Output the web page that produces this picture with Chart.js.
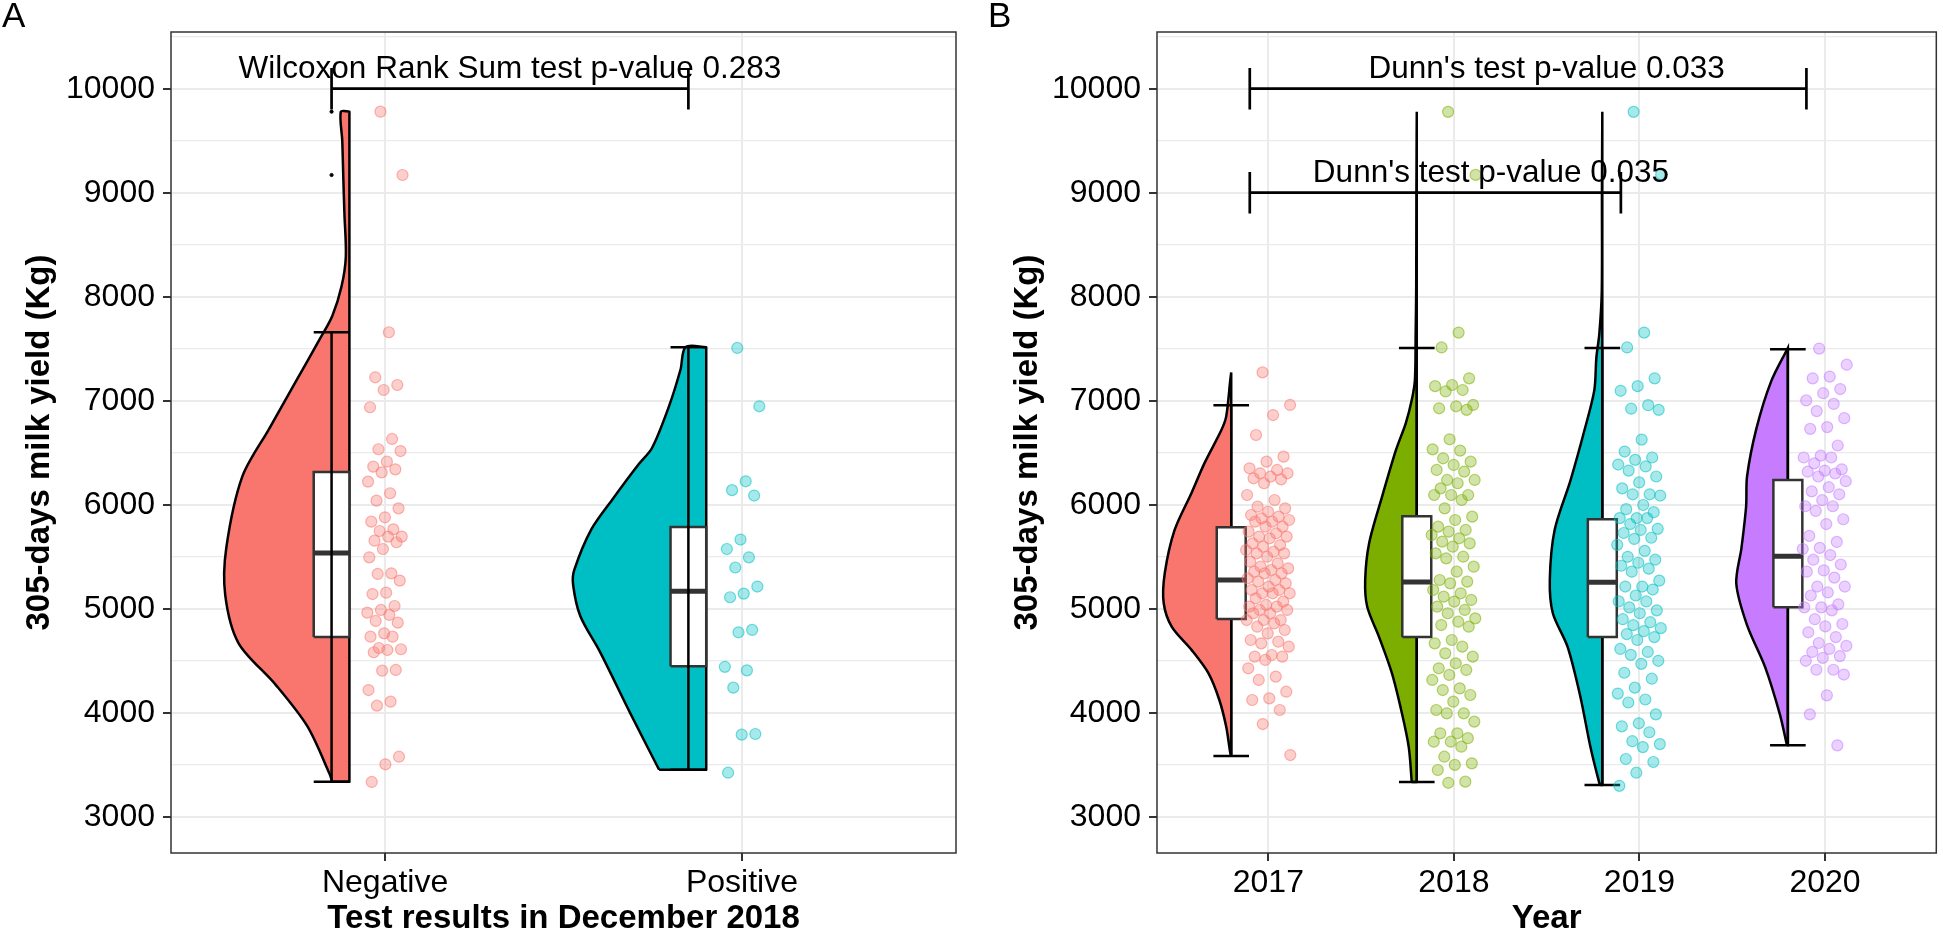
<!DOCTYPE html>
<html>
<head>
<meta charset="utf-8">
<script src="https://cdn.jsdelivr.net/npm/chart.js@4.4.1/dist/chart.umd.min.js"></script>
<style>
html, body { margin: 0; padding: 0; background: #fff; overflow: hidden; }
#panelA { position: absolute; left: 0; top: 0; width: 980px; height: 932px; }
#panelB { position: absolute; left: 980px; top: 0; width: 963px; height: 932px; }
</style>
</head>
<body>
<div id="panelA"><canvas id="chartA" width="980" height="932"></canvas></div>
<div id="panelB"><canvas id="chartB" width="963" height="932"></canvas></div>
<script>
// DATOS
const gruposA = ['Negative', 'Positive'];
const gruposB = ['2017', '2018', '2019', '2020'];
const ticksY = [3000, 3500, 4000, 4500, 5000, 5500, 6000, 6500, 7000, 7500, 8000, 8500, 9000, 9500, 10000, 10500];

// Resumen de cajas (mínimo, Q1, mediana, Q3, máximo)
const minA = [3336, 3451];
const q1A = [4727, 4447];
const medA = [5535, 5168];
const q3A = [6314, 5785];
const maxA = [7658, 7515];
const atipicosNeg = [9779, 9170];

const minB = [3583, 3333, 3304, 3686];
const q1B = [4900, 4727, 4727, 5013];
const medB = [5275, 5257, 5254, 5505];
const q3B = [5784, 5890, 5859, 6237];
const maxB = [6956, 7507, 7507, 7495];

// Contorno de densidad (medio violín): niveles y semiancho en unidades de categoría
const violinNegY = [3336, 3415, 3870, 4270, 4670, 5130, 5586, 6272, 6730, 7186, 7587, 7815, 8100, 8387, 8800, 9130, 9500, 9779];
const violinNegW = [0.048, 0.056, 0.118, 0.207, 0.311, 0.348, 0.345, 0.300, 0.225, 0.150, 0.084, 0.048, 0.022, 0.010, 0.014, 0.017, 0.020, 0.024];
const violinPosY = [3451, 3996, 4580, 4930, 5228, 5370, 5763, 6055, 6386, 6545, 6940, 7300, 7515];
const violinPosW = [0.132, 0.213, 0.297, 0.353, 0.373, 0.370, 0.322, 0.262, 0.190, 0.152, 0.105, 0.072, 0.058];

const violin17Y = [3583, 3612, 3864, 4122, 4380, 4604, 4825, 5055, 5343, 5757, 6113, 6400, 6718, 6849, 7199, 7272];
const violin17W = [0.0, 0.005, 0.027, 0.064, 0.123, 0.214, 0.320, 0.364, 0.358, 0.305, 0.214, 0.144, 0.053, 0.027, 0.005, 0.0];
const violin18Y = [3333, 3667, 3994, 4380, 4727, 5018, 5275, 5628, 6077, 6526, 6785, 7006, 7199, 7644, 8101, 9000, 9779];
const violin18W = [0.027, 0.043, 0.080, 0.134, 0.203, 0.267, 0.278, 0.257, 0.187, 0.112, 0.059, 0.027, 0.010, 0.006, 0.003, 0.002, 0.0];
const violin19Y = [3304, 3323, 3670, 4151, 4632, 4959, 5275, 5757, 6237, 6718, 7102, 7415, 7644, 8044, 9000, 9779];
const violin19W = [0.010, 0.016, 0.064, 0.118, 0.187, 0.267, 0.283, 0.257, 0.171, 0.096, 0.043, 0.032, 0.016, 0.003, 0.002, 0.0];
const violin20Y = [3686, 3984, 4441, 4842, 5242, 5585, 5985, 6271, 6729, 7186, 7507];
const violin20W = [0.005, 0.043, 0.123, 0.220, 0.278, 0.250, 0.225, 0.220, 0.170, 0.090, 0.0];

// Observaciones individuales (kg)
const puntosNeg = [9779, 9170, 7658, 7225, 7151, 7103, 6937, 6632, 6533, 6516, 6414, 6366, 6340, 6311, 6222, 6110, 6039, 5965, 5879, 5837, 5763, 5747, 5693, 5693, 5654, 5639, 5574, 5494, 5340, 5334, 5270, 5154, 5141, 5026, 4988, 4962, 4940, 4882, 4866, 4763, 4731, 4731, 4622, 4610, 4603, 4581, 4411, 4404, 4218, 4106, 4068, 3577, 3504, 3334];
const puntosPos = [7507, 6946, 6225, 6140, 6088, 5665, 5574, 5494, 5396, 5213, 5145, 5110, 4796, 4773, 4441, 4407, 4241, 3795, 3789, 3423];
const puntos2017 = [7272, 6959, 6862, 6670, 6462, 6414, 6350, 6334, 6302, 6302, 6270, 6254, 6244, 6206, 6093, 6045, 5981, 5965, 5933, 5901, 5885, 5869, 5853, 5837, 5837, 5789, 5789, 5741, 5725, 5693, 5693, 5677, 5628, 5612, 5596, 5564, 5548, 5532, 5532, 5500, 5452, 5436, 5404, 5388, 5372, 5356, 5340, 5340, 5292, 5276, 5260, 5244, 5212, 5180, 5180, 5148, 5148, 5148, 5100, 5068, 5036, 5020, 5020, 4988, 4988, 4956, 4956, 4891, 4891, 4891, 4859, 4827, 4795, 4763, 4699, 4683, 4667, 4635, 4555, 4539, 4539, 4507, 4427, 4347, 4315, 4202, 4138, 4122, 4026, 3891, 3593];
const puntos2018 = [9777, 9171, 7655, 7512, 7215, 7151, 7140, 7103, 7089, 6959, 6946, 6927, 6912, 6629, 6532, 6520, 6446, 6414, 6382, 6334, 6318, 6238, 6238, 6206, 6157, 6093, 6093, 6093, 6045, 5965, 5885, 5853, 5789, 5757, 5741, 5709, 5677, 5645, 5628, 5596, 5532, 5500, 5484, 5404, 5356, 5276, 5260, 5244, 5180, 5148, 5116, 5084, 5068, 5020, 4988, 4956, 4907, 4875, 4843, 4827, 4699, 4667, 4635, 4571, 4539, 4475, 4427, 4411, 4363, 4315, 4234, 4218, 4170, 4106, 4026, 3994, 3994, 3914, 3802, 3802, 3755, 3721, 3721, 3673, 3577, 3513, 3498, 3449, 3337, 3326];
const puntos2019 = [9777, 9176, 7655, 7512, 7215, 7140, 7095, 6957, 6923, 6912, 6626, 6511, 6454, 6431, 6386, 6368, 6328, 6271, 6214, 6157, 6100, 6100, 6088, 5997, 5957, 5928, 5871, 5871, 5871, 5814, 5768, 5757, 5728, 5682, 5671, 5614, 5556, 5499, 5471, 5442, 5413, 5385, 5356, 5270, 5213, 5213, 5184, 5127, 5070, 5070, 5013, 4984, 4956, 4899, 4870, 4842, 4813, 4784, 4756, 4727, 4699, 4613, 4584, 4556, 4499, 4470, 4384, 4327, 4241, 4184, 4127, 4098, 3984, 3898, 3869, 3812, 3726, 3698, 3669, 3555, 3526, 3423, 3297];
const puntos2020 = [7501, 7346, 7232, 7215, 7112, 7072, 7003, 6969, 6900, 6832, 6746, 6729, 6569, 6471, 6454, 6454, 6397, 6340, 6328, 6317, 6300, 6271, 6226, 6168, 6128, 6100, 6043, 5985, 5985, 5940, 5860, 5814, 5700, 5642, 5585, 5574, 5516, 5471, 5425, 5368, 5356, 5299, 5213, 5213, 5156, 5127, 5042, 5013, 5013, 4984, 4899, 4853, 4830, 4773, 4727, 4670, 4642, 4613, 4584, 4544, 4527, 4499, 4413, 4413, 4367, 4167, 3984, 3686];

// Comparaciones estadísticas
const pruebaA = 'Wilcoxon Rank Sum test p-value 0.283';
const pruebasB = ["Dunn's test p-value 0.033", "Dunn's test p-value 0.035"];

const colores2 = ['#F8766D', '#00BFC4'];
const colores4 = ['#F8766D', '#7CAE00', '#00BFC4', '#C77CFF'];
const FAMILIA = '"Liberation Sans", Arial, Helvetica, sans-serif';

Chart.defaults.font.family = FAMILIA;

function rgba(hex, a) {
    const n = parseInt(hex.slice(1), 16);
    return `rgba(${(n >> 16) & 255},${(n >> 8) & 255},${n & 255},${a})`;
}

// Desplazamiento horizontal determinista (jitter) solo para separar puntos
function jitter(i, amp) {
    return amp * (((i * 0.6180339887 + 0.37) % 1) * 2 - 1);
}

function violin(c, desplaz, ys, ws, color) {
    const xf = c + desplaz;
    const borde = ys.map((y, i) => ({ x: xf - ws[i], y }));
    const bot = ys[0], top = ys[ys.length - 1];
    const data = [...borde, { x: xf, y: top }, { x: xf, y: top - 1 }, { x: xf, y: bot + 1 }, { x: xf, y: bot }, borde[0]];
    return { type: 'line', data, backgroundColor: color, borderColor: '#000', borderWidth: 2.5,
        fill: 'shape', tension: 0.3, pointRadius: 0, order: 60 };
}

function caja(xc, hw, q1, q3) {
    return { type: 'line', data: [{ x: xc - hw, y: q1 }, { x: xc + hw, y: q1 }, { x: xc + hw, y: q3 }, { x: xc - hw, y: q3 }, { x: xc - hw, y: q1 }],
        backgroundColor: '#fff', borderColor: '#333', borderWidth: 2.5, fill: 'shape', tension: 0, pointRadius: 0, order: 40 };
}

function mediana(xc, hw, m) {
    return { type: 'line', data: [{ x: xc - hw, y: m }, { x: xc + hw, y: m }], borderColor: '#333', borderWidth: 5,
        fill: false, tension: 0, pointRadius: 0, order: 30 };
}

function bigote(xc, cw, lo, hi, orden) {
    return { type: 'line', data: [{ x: xc - cw, y: lo }, { x: xc + cw, y: lo }, { x: xc, y: lo }, { x: xc, y: hi }, { x: xc - cw, y: hi }, { x: xc + cw, y: hi }],
        borderColor: '#000', borderWidth: 2.5, fill: false, tension: 0, pointRadius: 0, order: orden };
}

function nube(c, valores, amp, color) {
    return { type: 'scatter', data: valores.map((v, i) => ({ x: c + jitter(i, amp), y: v })),
        pointRadius: 5.5, pointBorderWidth: 1.2, backgroundColor: rgba(color, 0.35), borderColor: rgba(color, 0.55), order: 10 };
}

function corchete(x1, x2, y) {
    return { type: 'line', data: [{ x: x1, y: y - 200 }, { x: x1, y: y + 200 }, { x: x1, y }, { x: x2, y }, { x: x2, y: y + 200 }, { x: x2, y: y - 200 }],
        borderColor: '#000', borderWidth: 2.7, fill: false, tension: 0, pointRadius: 0, order: 5 };
}

// Marco del panel, textos de las pruebas y letra del panel
const marcoPlugin = {
    id: 'marco',
    afterDatasetsDraw(chart, args, opts) {
        const { ctx, chartArea: a, scales: { x, y } } = chart;
        ctx.save();
        ctx.fillStyle = '#000';
        ctx.font = `31.5px ${FAMILIA}`;
        ctx.textAlign = 'center';
        ctx.textBaseline = 'middle';
        opts.textos.forEach(t => ctx.fillText(t.texto, x.getPixelForValue(t.x), y.getPixelForValue(t.y)));
        ctx.strokeStyle = '#333';
        ctx.lineWidth = 1.5;
        ctx.strokeRect(a.left, a.top, a.right - a.left, a.bottom - a.top);
        ctx.font = `35px ${FAMILIA}`;
        ctx.textAlign = 'left';
        ctx.textBaseline = 'alphabetic';
        ctx.fillText(opts.letra, opts.letraX, 27);
        ctx.restore();
    }
};

function escalas(etiquetas, tituloX, anchoY, padTituloY) {
    return {
        x: {
            type: 'linear', min: 0.4, max: etiquetas.length + 0.6,
            afterBuildTicks: s => { s.ticks = etiquetas.map((_, i) => ({ value: i + 1 })); },
            afterFit: s => { s.height = 79; },
            ticks: { autoSkip: false, maxRotation: 0, padding: 3, color: '#000', font: { size: 32 },
                callback: v => etiquetas[Math.round(v) - 1] },
            grid: { color: '#EBEBEB', lineWidth: 2, tickLength: 8, tickColor: '#333', tickWidth: 2 },
            border: { display: false },
            title: { display: true, text: tituloX, color: '#000', font: { size: 33, weight: 'bold', lineHeight: 0.8 }, padding: 0 }
        },
        y: {
            type: 'linear', min: 2651, max: 10545,
            afterBuildTicks: s => { s.ticks = ticksY.map(v => ({ value: v })); },
            afterFit: s => { s.width = anchoY; },
            ticks: { autoSkip: false, padding: 8, color: '#000', font: { size: 32 },
                callback: v => (v % 1000 === 0 ? String(v) : '') },
            grid: {
                color: '#EBEBEB',
                lineWidth: c => (c.tick && c.tick.value % 1000 === 0 ? 2 : 1.2),
                tickLength: 8,
                tickColor: c => (c.tick && c.tick.value % 1000 === 0 ? '#333' : 'rgba(0,0,0,0)'),
                tickWidth: 2
            },
            border: { display: false },
            title: { display: true, text: '305-days milk yield (Kg)', color: '#000', font: { size: 33, weight: 'bold' },
                padding: { top: padTituloY, bottom: 0 } }
        }
    };
}

// PANEL A
const dsA = [];
const puntosA = [puntosNeg, puntosPos];
const violinesA = [[violinNegY, violinNegW], [violinPosY, violinPosW]];
gruposA.forEach((g, i) => {
    const c = i + 1, xb = c - 0.15;
    dsA.push(violin(c, -0.1, violinesA[i][0], violinesA[i][1], colores2[i]));
    dsA.push(caja(xb, 0.05, q1A[i], q3A[i]));
    dsA.push(mediana(xb, 0.05, medA[i]));
    dsA.push(bigote(xb, 0.05, minA[i], maxA[i], 25));
    dsA.push(nube(c, puntosA[i], 0.05, colores2[i]));
});
dsA.push({ type: 'scatter', data: atipicosNeg.map(v => ({ x: 0.85, y: v })), pointRadius: 1.6, backgroundColor: '#000', borderColor: '#000', order: 20 });
dsA.push(corchete(0.85, 1.85, 10000));

new Chart(document.getElementById('chartA'), {
    type: 'scatter',
    data: { datasets: dsA },
    options: {
        responsive: false, animation: false, events: [],
        layout: { padding: { left: 0, right: 24, top: 32, bottom: 0 } },
        scales: escalas(gruposA, 'Test results in December 2018', 171, 20),
        plugins: {
            legend: { display: false }, tooltip: { enabled: false },
            marco: { textos: [{ texto: pruebaA, x: 1.35, y: 10190 }], letra: 'A', letraX: 2 }
        }
    },
    plugins: [marcoPlugin]
});

// PANEL B
const dsB = [];
const puntosB = [puntos2017, puntos2018, puntos2019, puntos2020];
const violinesB = [[violin17Y, violin17W], [violin18Y, violin18W], [violin19Y, violin19W], [violin20Y, violin20W]];
gruposB.forEach((g, i) => {
    const c = i + 1, xb = c - 0.2;
    dsB.push(violin(c, -0.2, violinesB[i][0], violinesB[i][1], colores4[i]));
    dsB.push(bigote(xb, 0.096, minB[i], maxB[i], 50));
    dsB.push(caja(xb, 0.078, q1B[i], q3B[i]));
    dsB.push(mediana(xb, 0.078, medB[i]));
    dsB.push(nube(c, puntosB[i], 0.12, colores4[i]));
});
dsB.push(corchete(0.9, 3.9, 10000));
dsB.push(corchete(0.9, 2.9, 9000));

new Chart(document.getElementById('chartB'), {
    type: 'scatter',
    data: { datasets: dsB },
    options: {
        responsive: false, animation: false, events: [],
        layout: { padding: { left: 0, right: 1, top: 32, bottom: 0 } },
        scales: escalas(gruposB, 'Year', 177, 28),
        plugins: {
            legend: { display: false }, tooltip: { enabled: false },
            marco: { textos: [{ texto: pruebasB[0], x: 2.5, y: 10190 }, { texto: pruebasB[1], x: 2.2, y: 9190 }], letra: 'B', letraX: 8 }
        }
    },
    plugins: [marcoPlugin]
});
</script>
</body>
</html>
